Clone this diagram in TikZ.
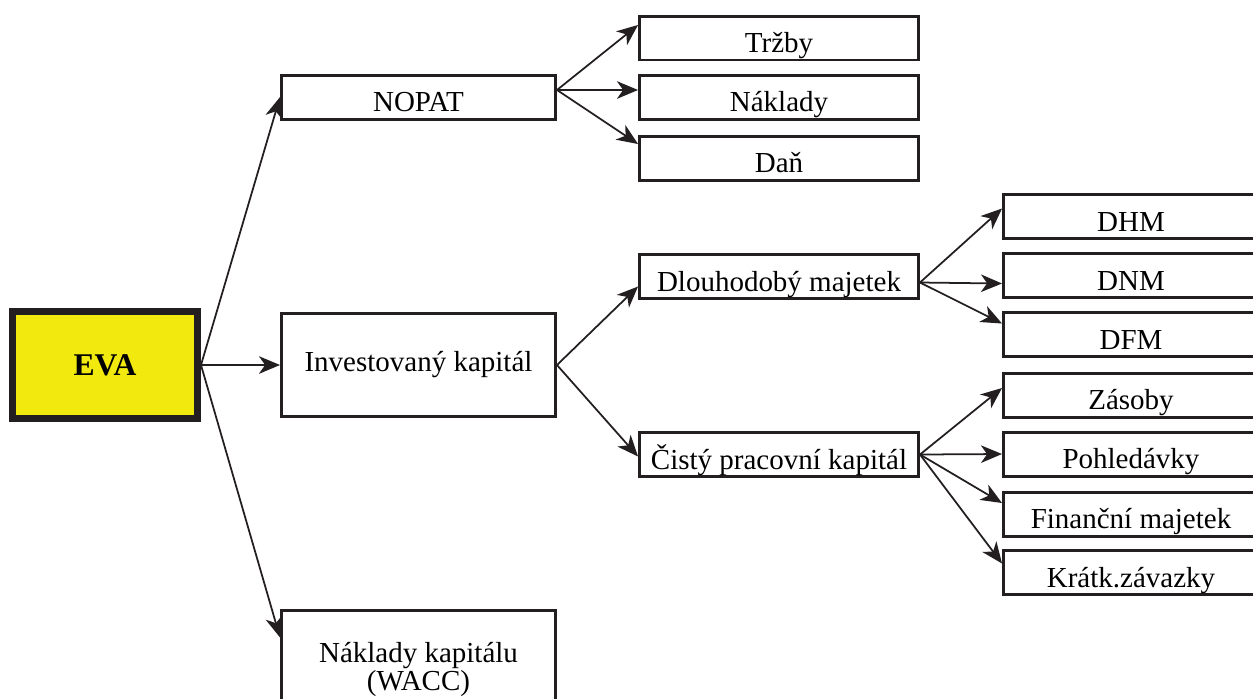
\documentclass[tikz,border=0pt]{standalone}
\usepackage{fontspec}
\setmainfont{Liberation Serif}
\usetikzlibrary{arrows.meta,calc}
\definecolor{evayellow}{RGB}{242,233,14}
\definecolor{ink}{RGB}{35,31,32}

\begin{document}
\begin{tikzpicture}[x=0.02cm, y=-0.02cm, font=\fontsize{16.5}{15}\selectfont,
  bigbox/.style = {draw=ink, line width=1.7pt, minimum width=5.48cm, inner sep=2pt},
  box/.style = {draw=ink, line width=1.7pt, minimum height=0.88cm, inner sep=2pt, text height=17.5pt, text depth=0.5pt},
  lvl1/.style = {box, minimum width=5.48cm},
  lvl2/.style = {box, minimum width=5.58cm},
  lvl3/.style = {box, minimum width=5.1cm},
  arr/.style = {draw=ink, line width=1pt, -{Stealth[length=12pt, width=10pt, inset=3.5pt]}}]
\useasboundingbox (0,0) rectangle (1253,698);
\clip (0,0) rectangle (1253,698);

\node[draw=ink, fill=evayellow, line width=4pt, minimum width=3.7cm, minimum height=2.14cm, font=\fontsize{18}{18}\selectfont\bfseries] (eva) at (105,365) {EVA};

\node[lvl1] (nopat) at (418.5,97) {NOPAT};
\node[bigbox, minimum height=2.06cm] (inv) at (418.5,365) {Investovaný kapitál};
\node[bigbox, minimum height=2.36cm, align=center] (wacc) at (418.5,669.5) {Náklady kapitálu\\(WACC)};

\node[lvl2] (trzby) at (779,38) {Tržby};
\node[lvl2] (naklady) at (779,97) {Náklady};
\node[lvl2] (dan) at (779,158) {Daň};
\node[lvl2] (dlm) at (779,276.5) {Dlouhodobý majetek};
\node[lvl2] (cpk) at (779,454.5) {Čistý pracovní kapitál};

\node[lvl3] (dhm) at (1131,216.5) {DHM};
\node[lvl3] (dnm) at (1131,275.5) {DNM};
\node[lvl3] (dfm) at (1131,334.5) {DFM};
\node[lvl3] (zasoby) at (1131,395) {Zásoby};
\node[lvl3] (pohl) at (1131,454) {Pohledávky};
\node[lvl3] (finm) at (1131,514) {Finanční majetek};
\node[lvl3] (kratz) at (1131,572.5) {Krátk.závazky};

\draw[arr] (eva.east) -- (nopat.west);
\draw[arr] (eva.east) -- (inv.west);
\draw[arr] (eva.east) -- ($(wacc.west)+(0,-32)$);

\draw[arr] ($(nopat.east)+(0,-7)$) -- ($(trzby.west)+(0,-13)$);
\draw[arr] ($(nopat.east)+(0,-7)$) -- ($(naklady.west)+(0,-7)$);
\draw[arr] ($(nopat.east)+(0,-7)$) -- ($(dan.west)+(0,-14)$);

\draw[arr] (inv.east) -- ($(dlm.west)+(0,10)$);
\draw[arr] (inv.east) -- ($(cpk.west)+(0,2)$);

\draw[arr] ($(dlm.east)+(0,6)$) -- ($(dhm.west)+(0,-8)$);
\draw[arr] ($(dlm.east)+(0,6)$) -- ($(dnm.west)+(0,8)$);
\draw[arr] ($(dlm.east)+(0,6)$) -- ($(dfm.west)+(0,-11)$);

\draw[arr] (cpk.east) -- ($(zasoby.west)+(0,-7)$);
\draw[arr] (cpk.east) -- (pohl.west);
\draw[arr] (cpk.east) -- ($(finm.west)+(0,-11)$);
\draw[arr] (cpk.east) -- ($(kratz.west)+(0,-9)$);
\end{tikzpicture}
\end{document}
